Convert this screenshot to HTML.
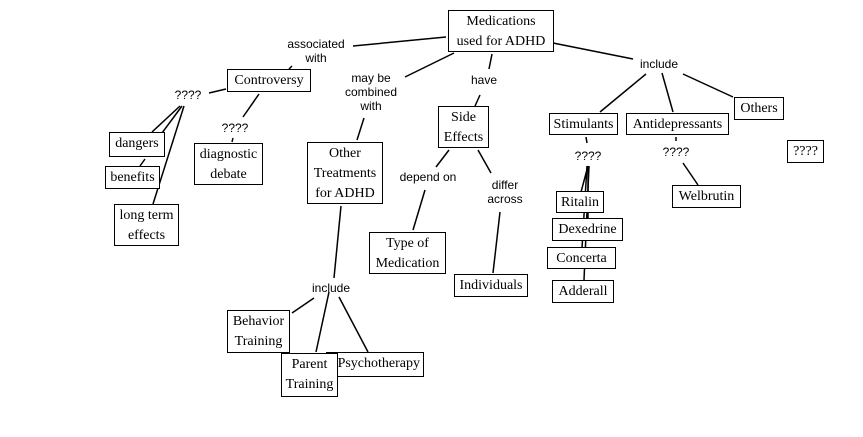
<!DOCTYPE html>
<html><head><meta charset="utf-8"><style>
body{margin:0;width:863px;height:437px;background:#fff;position:relative;overflow:hidden}
.b{position:absolute;border:1px solid #000;background:#fff;font-family:"Liberation Serif",serif;font-size:14px;line-height:20px;text-align:center;box-sizing:border-box;padding-top:1px;white-space:nowrap}
.l{position:absolute;font-family:"Liberation Sans",sans-serif;font-size:12px;line-height:14px;text-align:center;white-space:nowrap;transform:translateX(-50%)}
svg{position:absolute;left:0;top:0}
</style></head><body>
<svg width="863" height="437" stroke="#000" stroke-width="1.5">
<line x1="446" y1="37" x2="353" y2="46"/>
<line x1="292" y1="66" x2="289" y2="69"/>
<line x1="454" y1="53" x2="405" y2="77"/>
<line x1="364" y1="118" x2="357" y2="140"/>
<line x1="492" y1="54" x2="489" y2="69"/>
<line x1="480" y1="95" x2="475" y2="106"/>
<line x1="226" y1="89" x2="209" y2="93"/>
<line x1="180" y1="106" x2="152" y2="132"/>
<line x1="182" y1="106" x2="162" y2="133"/>
<line x1="145" y1="159" x2="140" y2="166"/>
<line x1="184" y1="106" x2="153" y2="204"/>
<line x1="259" y1="94" x2="243" y2="117"/>
<line x1="233" y1="138" x2="232" y2="142"/>
<line x1="449" y1="150" x2="436" y2="167"/>
<line x1="425" y1="190" x2="413" y2="230"/>
<line x1="478" y1="150" x2="491" y2="173"/>
<line x1="500" y1="212" x2="493" y2="273"/>
<line x1="341" y1="206" x2="334" y2="278"/>
<line x1="314" y1="298" x2="292" y2="313"/>
<line x1="329" y1="292" x2="316" y2="352"/>
<line x1="339" y1="297" x2="368" y2="352"/>
<line x1="553" y1="43" x2="633" y2="59"/>
<line x1="646" y1="74" x2="600" y2="112"/>
<line x1="662" y1="73" x2="673" y2="112"/>
<line x1="683" y1="74" x2="733" y2="97"/>
<line x1="586" y1="137" x2="587" y2="143"/>
<line x1="676" y1="137" x2="676" y2="141"/>
<line x1="683" y1="163" x2="698" y2="185"/>
<line x1="588" y1="166" x2="581" y2="192"/>
<line x1="588" y1="166" x2="588" y2="218"/>
<line x1="587" y1="166" x2="582" y2="248"/>
<line x1="589" y1="166" x2="584" y2="280"/>
</svg>
<div class="b" style="left:448px;top:10px;width:106px;height:42px">Medications<br>used for ADHD</div>
<div class="b" style="left:227px;top:69px;width:84px;height:23px">Controversy</div>
<div class="b" style="left:109px;top:132px;width:56px;height:25px">dangers</div>
<div class="b" style="left:105px;top:166px;width:55px;height:23px">benefits</div>
<div class="b" style="left:114px;top:204px;width:65px;height:42px">long term<br>effects</div>
<div class="b" style="left:194px;top:143px;width:69px;height:42px">diagnostic<br>debate</div>
<div class="b" style="left:307px;top:142px;width:76px;height:62px">Other<br>Treatments<br>for ADHD</div>
<div class="b" style="left:438px;top:106px;width:51px;height:42px">Side<br>Effects</div>
<div class="b" style="left:369px;top:232px;width:77px;height:42px">Type of<br>Medication</div>
<div class="b" style="left:454px;top:274px;width:74px;height:23px">Individuals</div>
<div class="b" style="left:549px;top:113px;width:69px;height:22px">Stimulants</div>
<div class="b" style="left:626px;top:113px;width:103px;height:22px">Antidepressants</div>
<div class="b" style="left:734px;top:97px;width:50px;height:23px">Others</div>
<div class="b" style="left:787px;top:140px;width:37px;height:23px">????</div>
<div class="b" style="left:556px;top:191px;width:48px;height:22px">Ritalin</div>
<div class="b" style="left:552px;top:218px;width:71px;height:23px">Dexedrine</div>
<div class="b" style="left:547px;top:247px;width:69px;height:22px">Concerta</div>
<div class="b" style="left:552px;top:280px;width:62px;height:23px">Adderall</div>
<div class="b" style="left:672px;top:185px;width:69px;height:23px">Welbrutin</div>
<div class="b" style="left:227px;top:310px;width:63px;height:43px">Behavior<br>Training</div>
<div class="b" style="left:326px;top:352px;width:98px;height:25px;text-align:right;padding-right:3px">Psychotherapy</div>
<div class="b" style="left:281px;top:353px;width:57px;height:44px">Parent<br>Training</div>
<div class="l" style="left:316px;top:37px">associated<br>with</div>
<div class="l" style="left:371px;top:71px">may be<br>combined<br>with</div>
<div class="l" style="left:484px;top:73px">have</div>
<div class="l" style="left:659px;top:57px">include</div>
<div class="l" style="left:188px;top:88px">????</div>
<div class="l" style="left:235px;top:121px">????</div>
<div class="l" style="left:428px;top:170px">depend on</div>
<div class="l" style="left:505px;top:178px">differ<br>across</div>
<div class="l" style="left:331px;top:281px">include</div>
<div class="l" style="left:588px;top:149px">????</div>
<div class="l" style="left:676px;top:145px">????</div>
</body></html>
